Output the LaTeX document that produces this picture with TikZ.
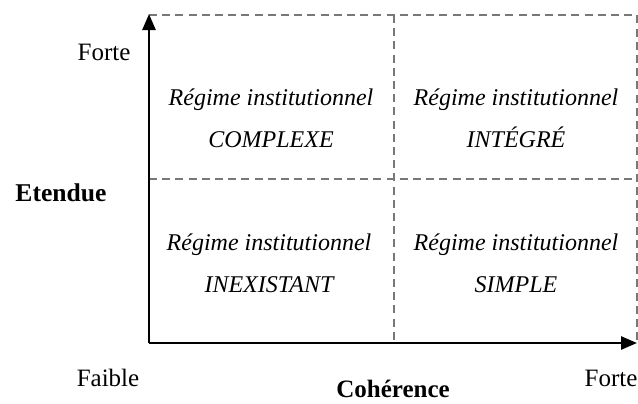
\documentclass[tikz,border=0pt]{standalone}
\usepackage{fontspec}
\setmainfont{Liberation Serif}
\usepackage{tikz}
\usetikzlibrary{arrows.meta,positioning}
\definecolor{grilleGris}{RGB}{120,120,120}

\begin{document}
\begin{tikzpicture}[x=0.5pt,y=-0.5pt,
    axe/.style={line width=1.3pt,-{Triangle[length=8pt,width=6.5pt]}},
    grille/.style={grilleGris,line width=0.8pt,dash pattern=on 4pt off 2.6pt},
    regime/.style={font=\fontsize{12}{21}\selectfont\itshape,align=center},
    etiq/.style={font=\fontsize{12.5}{15}\selectfont}]

    \useasboundingbox (0,0) rectangle (638,403);

    % ── REPERE ─────────────────────────────────────────────
    \coordinate (O)      at (149,343);
    \coordinate (haut)   at (149,14);
    \coordinate (droite) at (637,343);
    \coordinate (hautG)  at (149,15);
    \coordinate (coin)   at (637,15);
    \coordinate (milG)   at (149,179);
    \coordinate (milD)   at (637,179);
    \coordinate (milH)   at (394,15);
    \coordinate (milB)   at (394,343);

    % Grille en pointilles
    \draw[grille] (hautG) -- (coin) -- (droite);
    \draw[grille] (milG) -- (milD);
    \draw[grille] (milH) -- (milB);

    % Axes
    \draw[axe] (O) -- (haut);
    \draw[axe] (O) -- (droite);

    % ── QUADRANTS ──────────────────────────────────────────
    \node[regime] (complexe)   at (271,118){Régime institutionnel\\COMPLEXE};
    \node[regime] (integre)    at (516,118){Régime institutionnel\\INTÉGRÉ};
    \node[regime] (inexistant) at (269,263){Régime institutionnel\\INEXISTANT};
    \node[regime] (simple)     at (516,263){Régime institutionnel\\SIMPLE};

    % ── ETIQUETTES ─────────────────────────────────────────
    \node[etiq] (forteY)    at (104,52){Forte};
    \node[etiq,font=\fontsize{12.8}{15}\selectfont\bfseries] (etendue) at (61,193){Etendue};
    \node[etiq] (faible)    at (108,378){Faible};
    \node[etiq,font=\fontsize{12.5}{15}\selectfont\bfseries] (coherence) at (393,389){Cohérence};
    \node[etiq] (forteX)    at (611,378){Forte};

\end{tikzpicture}
\end{document}
